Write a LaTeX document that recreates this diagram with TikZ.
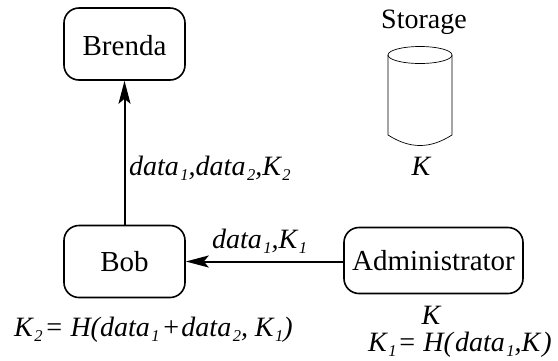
\documentclass[tikz,border=0pt]{standalone}
\usepackage{fontspec}
\setmainfont{Liberation Serif}
\usetikzlibrary{arrows.meta, positioning}
\tikzset{
	partybox/.style={draw, line width=1.6pt, rounded corners=15pt, minimum height=72pt, font=\fontsize{29}{32}\selectfont, inner sep=0pt},
	msg/.style={font=\fontsize{28}{32}\selectfont\itshape, inner sep=0pt, anchor=base west},
	flow/.style={line width=2pt, -{Stealth[length=23pt, width=12pt, inset=5pt]}}
}
\newcommand{\sbs}[1]{\kern1.5pt\raisebox{-5pt}{\fontsize{16.5}{18}\selectfont #1}}

\begin{document}
\begin{tikzpicture}[x=1pt, y=-1pt]
	\useasboundingbox (0,0) rectangle (558,360);
	
	\node[partybox, minimum width=121pt, text height=24pt] (brenda) at (124.5,44) {Brenda};
	\node[partybox, minimum width=121pt] (bob) at (124.5,261.5) {Bob};
	\node[partybox, minimum width=179pt, minimum height=66pt] (admin) at (433.5,260.5) {Administrator};
	
	\draw[flow] (bob) -- (brenda);
	\draw[flow] (admin.west |- bob.east) -- (bob.east);
	
	\draw[line width=0.7pt] (388,55) arc[start angle=180, end angle=-180, x radius=32pt, y radius=8.5pt];
	\draw[line width=0.7pt] (388,55) -- (388,135) .. controls (410,149) and (430,149) .. (452,135) -- (452,55);
	
	\node[msg, anchor=base] (storage) at (424,28) {\upshape Storage};
	\node[msg, anchor=base] (keystore) at (421,175) {K};
	\node[msg] (dataup) at (129,175) {data\sbs{1},data\sbs{2},K\sbs{2}};
	\node[msg] (dataleft) at (212,248) {data\sbs{1},K\sbs{1}};
	\node[msg] (keybob) at (14,336) {K\sbs{2}\kern2pt= H(data\sbs{1}\kern2pt+\kern1ptdata\sbs{2}, K\sbs{1})};
	\node[msg, anchor=base] (keyadmin) at (431,324) {K};
	\node[msg] (keyone) at (368,351) {K\sbs{1}\kern1pt= H(\kern2ptdata\sbs{1},K\kern2pt)};
\end{tikzpicture}
\end{document}
